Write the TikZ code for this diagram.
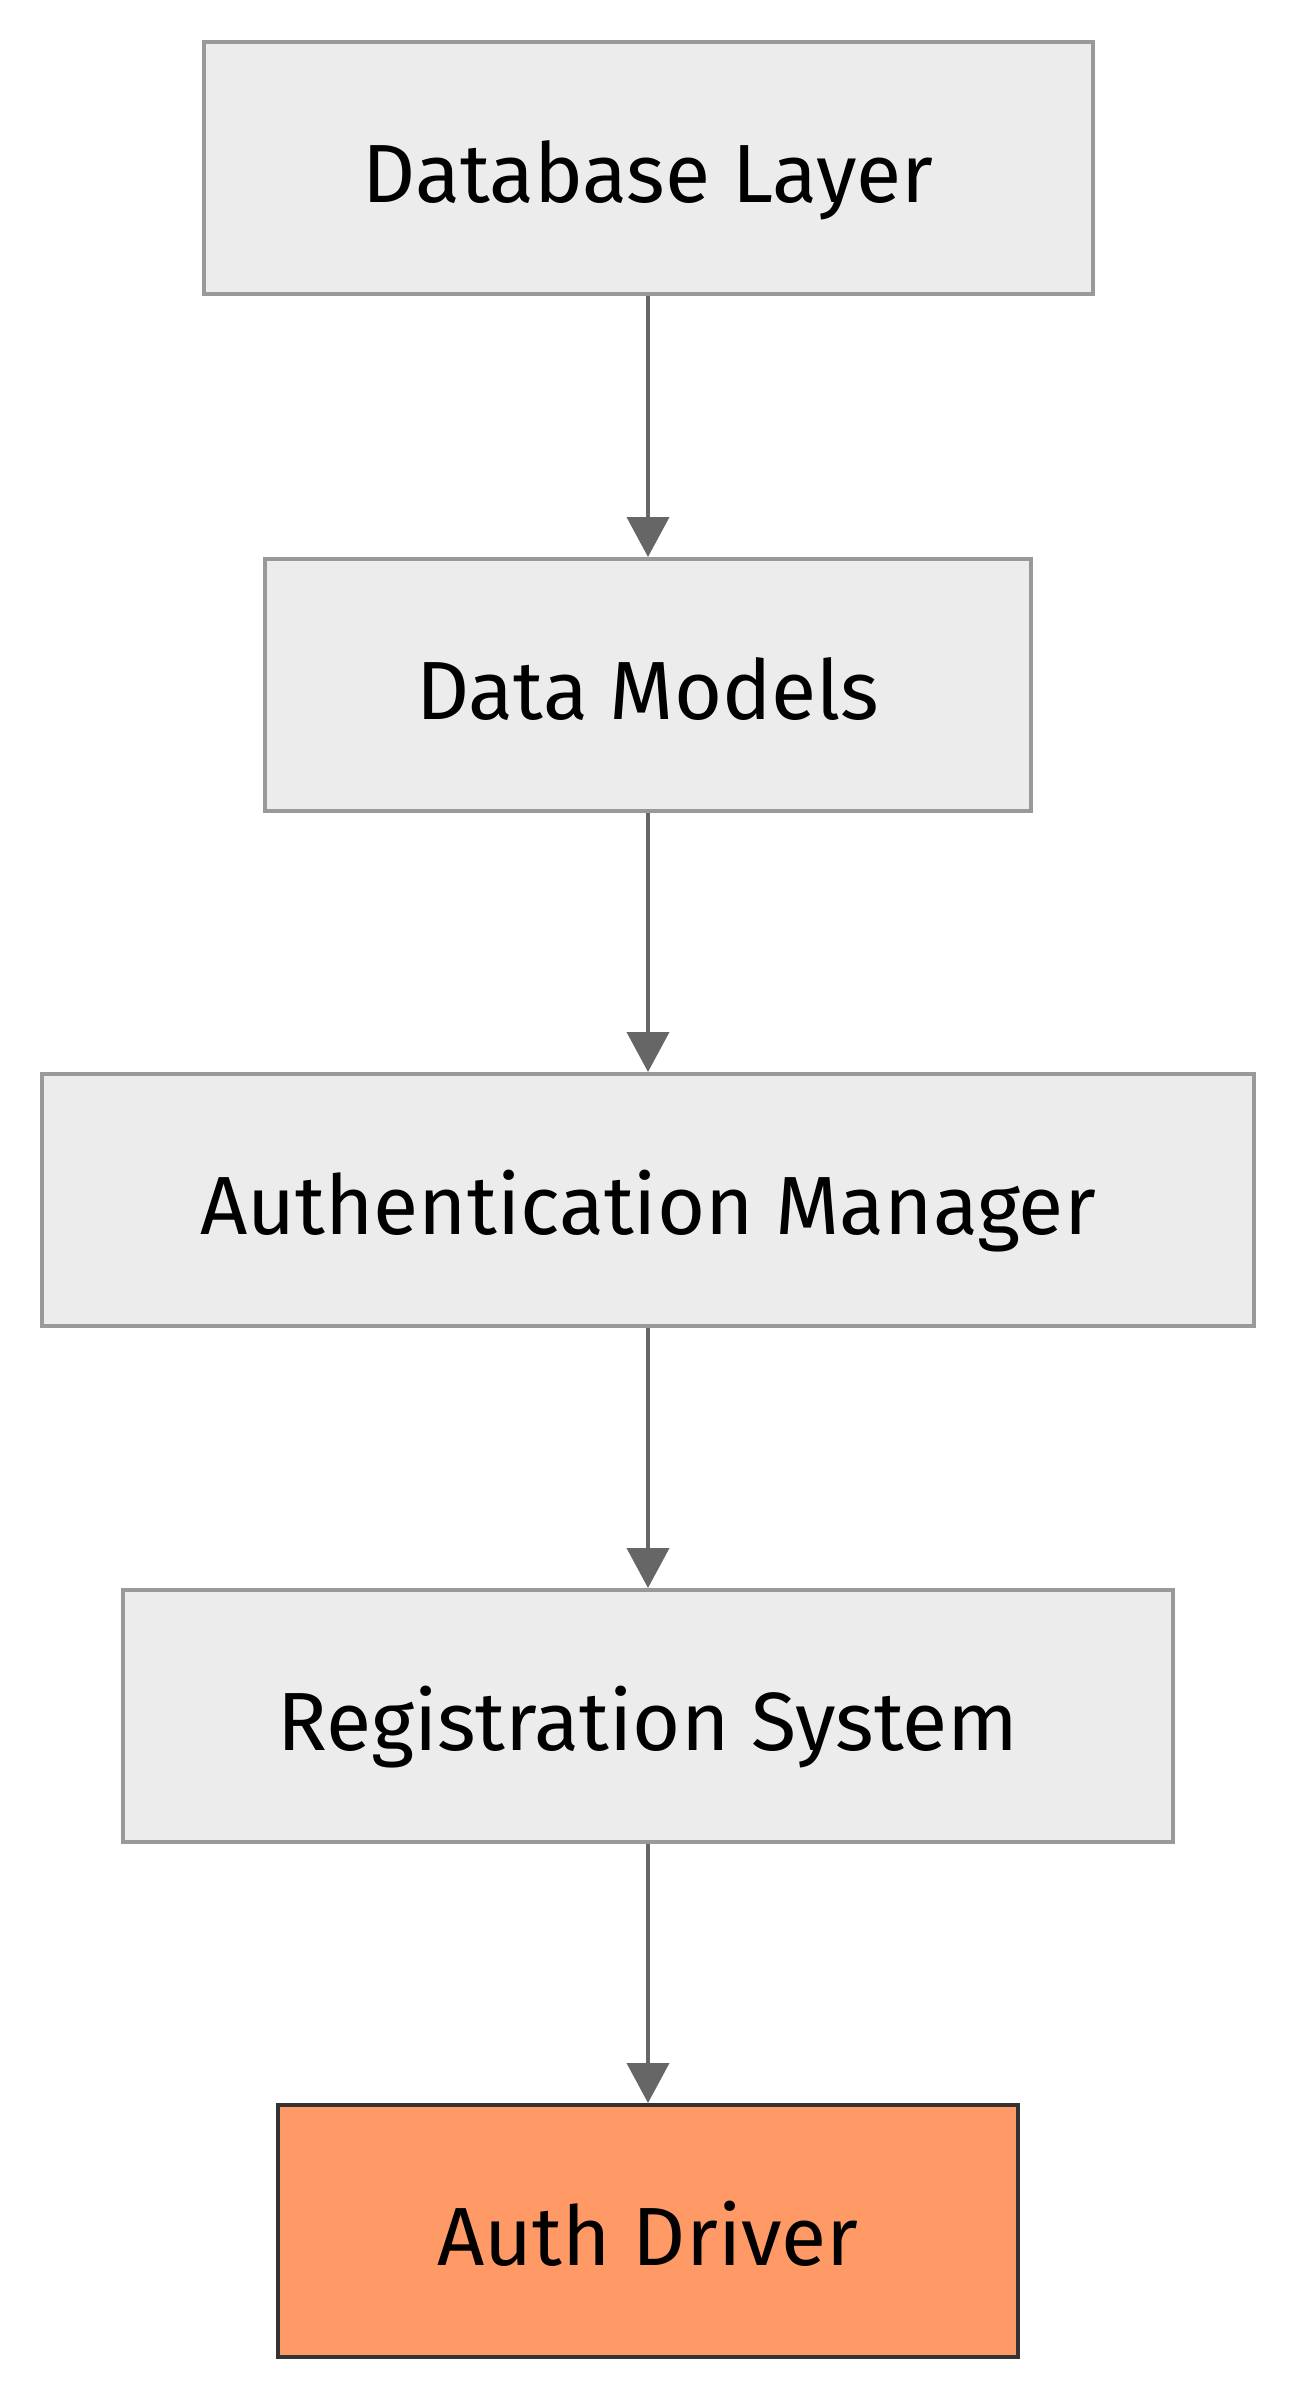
\documentclass[tikz,border=0pt]{standalone}
\usepackage{fontspec}
\setmainfont{Fira Sans}
\usetikzlibrary{arrows.meta}
\definecolor{boxfill}{HTML}{ECECEC}
\definecolor{boxline}{HTML}{999999}
\definecolor{driverfill}{HTML}{FF9966}
\definecolor{driverline}{HTML}{333333}
\definecolor{linkline}{HTML}{666666}

\begin{document}
\begin{tikzpicture}[x=1pt,y=1pt,
    layer/.style={draw=boxline, fill=boxfill, line width=2pt, minimum height=126pt,
      inner sep=0pt, text height=40pt, text depth=5.5pt,
      font=\fontsize{41.3}{50}\selectfont},
    driver/.style={layer, draw=driverline, fill=driverfill},
    link/.style={draw=linkline, line width=2pt, -{Triangle[length=20pt,width=21pt]}}]
        \useasboundingbox (0,0) rectangle (648,-1200);
        \node[layer, minimum width=444.5pt] (db) at (324,-84) {Database Layer};
        \node[layer, minimum width=383pt] (models) at (324,-342.5) {Data Models};
        \node[layer, minimum width=606pt] (authmgr) at (324,-600) {Authentication Manager};
        \node[layer, minimum width=525pt] (reg) at (324,-858) {Registration System};
        \node[driver, minimum width=370pt] (driver) at (324,-1115.5) {Auth Driver};
        \draw[link] (db) -- (models);
        \draw[link] (models) -- (authmgr);
        \draw[link] (authmgr) -- (reg);
        \draw[link] (reg) -- (driver);
\end{tikzpicture}
\end{document}
